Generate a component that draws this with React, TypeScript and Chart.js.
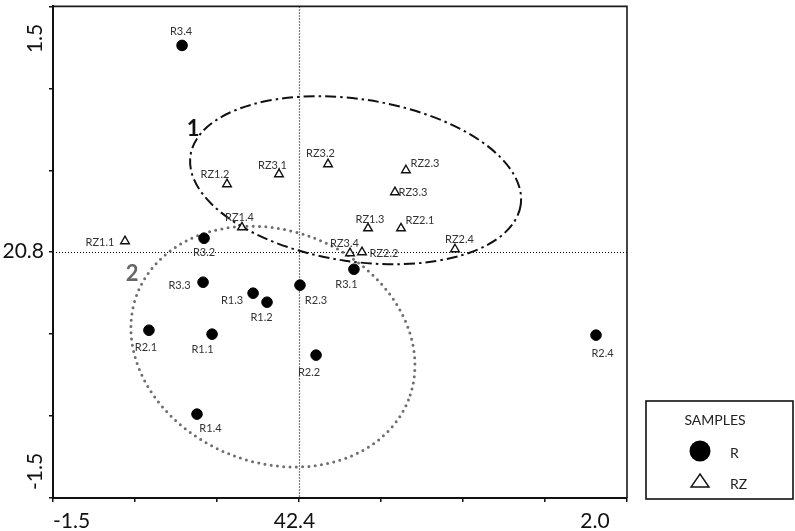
import React, { useEffect, useRef } from 'react';
import { Chart, registerables } from 'chart.js';

Chart.register(...registerables);

// ---------- data ----------
const rNames = ['R1.1', 'R1.2', 'R1.3', 'R1.4', 'R2.1', 'R2.2', 'R2.3', 'R2.4', 'R3.1', 'R3.2', 'R3.3', 'R3.4'];
const rX = [-0.53, -0.195, -0.28, -0.622, -0.915, 0.104, 0.006, 1.811, 0.335, -0.579, -0.585, -0.713];
const rY = [-0.5, -0.305, -0.25, -0.988, -0.476, -0.628, -0.201, -0.506, -0.104, 0.085, -0.183, 1.262];

const rzNames = ['RZ1.1', 'RZ1.2', 'RZ1.3', 'RZ1.4', 'RZ2.1', 'RZ2.2', 'RZ2.3', 'RZ2.4', 'RZ3.1', 'RZ3.2', 'RZ3.3', 'RZ3.4'];
const rzX = [-1.061, -0.439, 0.421, -0.348, 0.622, 0.384, 0.652, 0.951, -0.122, 0.177, 0.585, 0.311];
const rzY = [0.067, 0.415, 0.146, 0.152, 0.146, 0.0, 0.5, 0.018, 0.476, 0.537, 0.366, -0.006];

const xTickValues = [-1.5, 0, 2.0];
const xTickLabels = ['-1.5', '42.4', '2.0'];
const yTickValues = [1.5, 0, -1.5];
const yTickLabels = ['1.5', '20.8', '-1.5'];

// group ellipses (data units)
const ellipseNames = ['1', '2'];
const ellipseCX = [0.345, -0.159];
const ellipseCY = [0.439, -0.576];
const ellipseA = [1.018, 0.888];
const ellipseB = [0.495, 0.708];
const ellipseAngleDeg = [8.6, 21.5];
const ellipseLabelX = [-0.646, -1.018];
const ellipseLabelY = [0.75, -0.134];

const legendTitle = 'SAMPLES';
const seriesNames = ['R', 'RZ'];

// ---------- styling (pixel offsets for point labels) ----------
const rLabelOffsets: [number, number][] = [
  [-9.5, 15], [-5.5, 15], [-21, 7], [13.5, 14.5], [-3, 17], [-7, 17],
  [16, 15], [6.5, 18], [-7.5, 15.5], [0, 14], [-23.5, 3], [-1, -13.5],
];
const rzLabelOffsets: [number, number][] = [
  [-25, 1], [-12, -10], [2, -8.5], [-2.5, -10], [19, -7.5], [22, 1.5],
  [19, -7], [4.5, -9.5], [-6.5, -9], [-7.5, -10.5], [18, 0], [-5.5, -9.5],
];

const FONT = 'Lato, "Open Sans", "DejaVu Sans", sans-serif';

const overlayPlugin = {
  id: 'overlay',
  beforeDatasetsDraw(chart: any) {
    const { ctx, chartArea: ca, scales } = chart;
    const x = scales.x, y = scales.y;
    ctx.save();
    // frame top & right
    ctx.strokeStyle = '#1a1a1a';
    ctx.lineWidth = 1.6;
    ctx.beginPath();
    ctx.moveTo(ca.left, ca.top);
    ctx.lineTo(ca.right, ca.top);
    ctx.lineTo(ca.right, ca.bottom);
    ctx.stroke();

    // zero reference lines (dotted)
    const x0 = Math.round(x.getPixelForValue(0)) + 0.5;
    const y0 = Math.round(y.getPixelForValue(0)) + 0.5;
    ctx.setLineDash([1, 2]);
    ctx.lineWidth = 1.2;
    ctx.strokeStyle = '#000';
    ctx.beginPath();
    ctx.moveTo(x0, ca.top);
    ctx.lineTo(x0, ca.bottom);
    ctx.moveTo(ca.left, y0);
    ctx.lineTo(ca.right, y0);
    ctx.stroke();

    // ellipses
    const ux = x.getPixelForValue(1) - x.getPixelForValue(0);
    const uy = y.getPixelForValue(0) - y.getPixelForValue(1);
    for (let i = 0; i < ellipseNames.length; i++) {
      const cx = x.getPixelForValue(ellipseCX[i]);
      const cy = y.getPixelForValue(ellipseCY[i]);
      ctx.beginPath();
      ctx.ellipse(cx, cy, ellipseA[i] * ux, ellipseB[i] * uy, (ellipseAngleDeg[i] * Math.PI) / 180, 0, Math.PI * 2);
      if (i === 0) {
        ctx.setLineDash([11, 4, 2.5, 4]);
        ctx.lineCap = 'butt';
        ctx.lineWidth = 2;
        ctx.strokeStyle = '#111';
      } else {
        ctx.setLineDash([0, 6.3]);
        ctx.lineCap = 'round';
        ctx.lineWidth = 3;
        ctx.strokeStyle = '#6e6e6e';
      }
      ctx.stroke();
    }
    ctx.setLineDash([]);
    // ellipse labels
    ctx.font = `bold 22px ${FONT}`;
    ctx.textAlign = 'center';
    ctx.textBaseline = 'middle';
    for (let i = 0; i < ellipseNames.length; i++) {
      ctx.fillStyle = i === 0 ? '#111' : '#666';
      ctx.fillText(ellipseNames[i], x.getPixelForValue(ellipseLabelX[i]), y.getPixelForValue(ellipseLabelY[i]));
    }
    ctx.restore();
  },
  afterDatasetsDraw(chart: any) {
    const { ctx } = chart;
    ctx.save();
    ctx.font = `11px ${FONT}`;
    ctx.fillStyle = '#333';
    ctx.textAlign = 'center';
    ctx.textBaseline = 'middle';
    const groups = [
      { names: rNames, offs: rLabelOffsets, ds: 0 },
      { names: rzNames, offs: rzLabelOffsets, ds: 1 },
    ];
    groups.forEach((g) => {
      const meta = chart.getDatasetMeta(g.ds);
      meta.data.forEach((el: any, i: number) => {
        ctx.fillText(g.names[i], el.x + g.offs[i][0], el.y + g.offs[i][1]);
      });
    });
    ctx.restore();
  },
  afterDraw(chart: any) {
    const { ctx, chartArea: ca, scales } = chart;
    const x = scales.x, y = scales.y;
    ctx.save();
    ctx.fillStyle = '#111';
    ctx.font = `21px ${FONT}`;
    ctx.textBaseline = 'middle';
    // x tick labels
    const xOff = [18.5, -4.5, -32];
    ctx.textAlign = 'center';
    xTickValues.forEach((v, i) => {
      ctx.fillText(xTickLabels[i], x.getPixelForValue(v) + xOff[i], ca.bottom + 23);
    });
    // y tick labels
    yTickValues.forEach((v, i) => {
      const py = y.getPixelForValue(v);
      if (v === 0) {
        ctx.textAlign = 'right';
        ctx.fillText(yTickLabels[i], ca.left - 9, py - 1);
      } else {
        const cy = v > 0 ? py + 32 : py - 26.5;
        ctx.save();
        ctx.translate(ca.left - 17.5, cy);
        ctx.rotate(-Math.PI / 2);
        ctx.textAlign = 'center';
        ctx.fillText(yTickLabels[i], 0, 0);
        ctx.restore();
      }
    });

    // legend
    const lx = ca.right + 19, ly = 401, lw = 147, lh = 98;
    ctx.strokeStyle = '#111';
    ctx.lineWidth = 1.6;
    ctx.strokeRect(lx, ly, lw, lh);
    ctx.font = `14px ${FONT}`;
    ctx.textAlign = 'center';
    ctx.fillStyle = '#222';
    ctx.fillText(legendTitle, lx + 69, ly + 19.5);
    ctx.textAlign = 'left';
    // R marker
    ctx.fillStyle = '#000';
    ctx.beginPath();
    ctx.arc(lx + 54, ly + 50, 10.5, 0, Math.PI * 2);
    ctx.fill();
    ctx.fillStyle = '#222';
    ctx.fillText(seriesNames[0], lx + 84, ly + 52);
    // RZ marker
    ctx.strokeStyle = '#111';
    ctx.lineWidth = 1.4;
    ctx.beginPath();
    ctx.moveTo(lx + 54, ly + 73);
    ctx.lineTo(lx + 63, ly + 86);
    ctx.lineTo(lx + 45, ly + 86);
    ctx.closePath();
    ctx.stroke();
    ctx.fillText(seriesNames[1], lx + 84, ly + 83.5);
    ctx.restore();
  },
};

export default function App() {
  const ref = useRef<HTMLCanvasElement | null>(null);
  useEffect(() => {
    document.body.style.margin = '0';
    if (!ref.current) return;
    const chart = new Chart(ref.current, {
      type: 'scatter',
      data: {
        datasets: [
          {
            label: seriesNames[0],
            data: rX.map((v, i) => ({ x: v, y: rY[i] })),
            backgroundColor: '#000',
            borderColor: '#000',
            pointRadius: 5.3,
            pointHoverRadius: 5.3,
            pointStyle: 'circle',
          },
          {
            label: seriesNames[1],
            data: rzX.map((v, i) => ({ x: v, y: rzY[i] })),
            backgroundColor: 'rgba(255,255,255,0.9)',
            borderColor: '#111',
            borderWidth: 1.4,
            pointRadius: 5,
            pointHoverRadius: 5,
            pointStyle: 'triangle',
          },
        ],
      },
      options: {
        responsive: false,
        animation: false,
        devicePixelRatio: 1,
        layout: { padding: { top: 5, right: 168, left: 0, bottom: 0 } },
        plugins: { legend: { display: false }, tooltip: { enabled: false } },
        scales: {
          x: {
            type: 'linear',
            min: -1.5,
            max: 2.0,
            ticks: { stepSize: 0.5, display: false },
            grid: { drawOnChartArea: false, drawTicks: true, tickLength: 4, color: '#111', lineWidth: 1.5 },
            border: { display: true, color: '#111', width: 2 },
            afterFit: (s: any) => { s.height = 33; },
          },
          y: {
            type: 'linear',
            min: -1.5,
            max: 1.5,
            ticks: { stepSize: 0.5, display: false },
            grid: { drawOnChartArea: false, drawTicks: true, tickLength: 4, color: '#111', lineWidth: 1.5 },
            border: { display: true, color: '#111', width: 2 },
            afterFit: (s: any) => { s.width = 53; },
          },
        },
      },
      plugins: [overlayPlugin],
    });
    return () => chart.destroy();
  }, []);
  return (
    <div style={{ width: 795, height: 531, background: '#fff' }}>
      <canvas ref={ref} width={795} height={531} style={{ display: 'block' }} />
    </div>
  );
}
